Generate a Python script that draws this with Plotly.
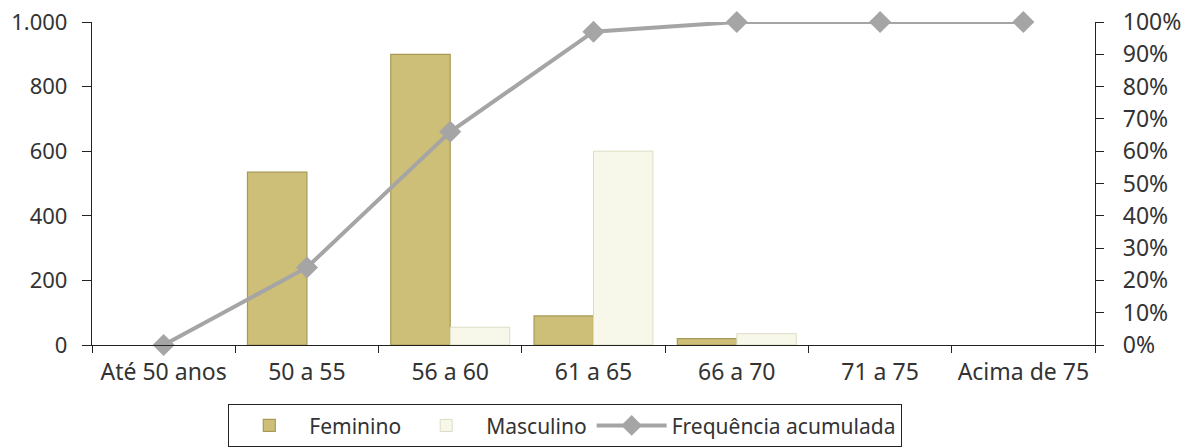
import plotly.graph_objects as go

categories = ["Até 50 anos", "50 a 55", "56 a 60", "61 a 65", "66 a 70", "71 a 75", "Acima de 75"]
feminino = [None, 535, 900, 90, 20, None, None]
masculino = [None, None, 55, 600, 35, None, None]
freq_acumulada = [0, 24, 66, 97, 100, 100, 100]

FONT = "Noto Sans"
TXT = "#333333"
AX = "#222222"

fig = go.Figure()
fig.add_trace(go.Bar(
    x=categories, y=feminino, name="Feminino",
    marker=dict(color="#cdbf78", line=dict(color="#a89a55", width=1.2)),
))
fig.add_trace(go.Bar(
    x=categories, y=masculino, name="Masculino",
    marker=dict(color="#f8f8ea", line=dict(color="#dcdcc4", width=1)),
))
fig.add_trace(go.Scatter(
    x=categories, y=freq_acumulada, name="Frequência acumulada", yaxis="y2",
    mode="lines+markers",
    line=dict(color="#a5a5a5", width=4),
    marker=dict(symbol="diamond", size=17, color="#a5a5a5"),
    cliponaxis=False,
))

axis_line = dict(showline=True, linecolor=AX, linewidth=1.3, showgrid=False, zeroline=False)
tick_style = dict(tickcolor=AX, tickwidth=1.3)

W, H = 1197, 447

fig.update_layout(
    width=W, height=H,
    margin=dict(l=92, r=102, t=22, b=102, autoexpand=False),
    paper_bgcolor="white", plot_bgcolor="white",
    separators=",.",
    barmode="group", bargap=0.17, bargroupgap=0,
    font=dict(family=FONT, size=22, color=TXT),
    xaxis=dict(**axis_line, **tick_style, type="category", tickson="boundaries",
               ticks="outside", ticklen=7, range=[-0.5, 6.5], ticklabelstandoff=6,
               tickfont=dict(size=23, color=TXT)),
    yaxis=dict(**axis_line, **tick_style, range=[0, 1000], dtick=200, tickformat=",",
               ticks="outside", ticklen=9, ticklabelstandoff=10, ticklabeloverflow="allow",
               tickfont=dict(size=22, color=TXT)),
    yaxis2=dict(**axis_line, **tick_style, overlaying="y", side="right", range=[0, 100],
                dtick=10, ticksuffix="%", ticks="outside", ticklen=8, ticklabelstandoff=14,
                ticklabeloverflow="allow", tickfont=dict(size=23, color=TXT)),
    # inner halves of the crossing tick marks
    xaxis2=dict(overlaying="x", anchor="y", type="category", tickson="boundaries",
                categoryarray=categories, categoryorder="array",
                range=[-0.5, 6.5], ticks="inside", ticklen=6, showticklabels=False,
                showline=False, showgrid=False, zeroline=False, side="bottom", **tick_style),
    yaxis3=dict(overlaying="y", anchor="x", side="left", range=[0, 1000], dtick=200,
                ticks="inside", ticklen=8, showticklabels=False,
                showline=False, showgrid=False, zeroline=False, **tick_style),
    yaxis4=dict(overlaying="y", anchor="x", side="right", range=[0, 100], dtick=10,
                ticks="inside", ticklen=8, showticklabels=False,
                showline=False, showgrid=False, zeroline=False, **tick_style),
    legend=dict(orientation="h", x=(565 - 92) / (W - 92 - 102), xanchor="center",
                yref="container", y=1 - 404 / H, yanchor="top",
                bordercolor=AX, borderwidth=1.3, bgcolor="white",
                font=dict(size=21, color=TXT), itemwidth=70,
                traceorder="normal", tracegroupgap=0),
    showlegend=True,
)

fig.write_html(
    "out.html",
    config={"displayModeBar": False},
    post_script="document.body.style.margin='0';document.body.style.overflow='hidden';",
)
